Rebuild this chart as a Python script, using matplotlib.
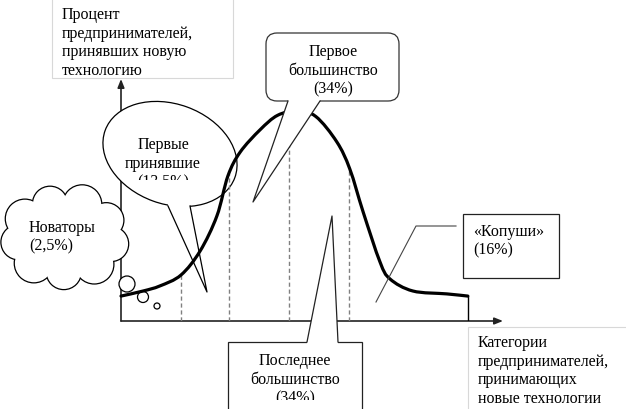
import numpy as np
import matplotlib.pyplot as plt
from matplotlib import transforms
from matplotlib.path import Path
from matplotlib.patches import (Ellipse, Circle, FancyBboxPatch, Rectangle, Polygon,
                                PathPatch)

plt.rcParams['font.family'] = ['Liberation Serif', 'DejaVu Serif']

# кривая принятия новой технологии: X - время (0..100), Y - доля (0..100)
curve_x = [0, 5.8, 10.2, 15.7, 20.7, 25.1, 28.0, 31.2, 36.4, 41.0, 46.1,
           51.0, 56.5, 59.9, 63.4, 67.8, 70.4, 76.4, 85.3, 90.8]
curve_y = [10.3, 12.4, 14.5, 19.0, 28.9, 43.4, 60.0, 69.8, 79.0, 85.0, 86.8,
           84.5, 74.0, 62.8, 45.0, 24.4, 17.4, 12.4, 11.2, 10.3]
# границы категорий
bounds = [15.7, 28.3, 44.0, 59.7]

categories = ["Новаторы", "Первые\nпринявшие", "Первое\nбольшинство",
              "Последнее\nбольшинство", "«Копуши»"]
shares = ["2,5%", "13,5%", "34%", "34%", "16%"]
y_title = "Процент\nпредпринимателей,\nпринявших новую\nтехнологию"
x_title = "Категории\nпредпринимателей,\nпринимающих\nновые технологии"

W, H = 626, 410
FS = 11.5
LS = 1.24
fig = plt.figure(figsize=(W / 100, H / 100), dpi=100)
# пиксельные координаты (y вниз) для выносок
pix = transforms.Affine2D().scale(1 / W, -1 / H).translate(0, 1) + fig.transFigure

ax = fig.add_axes([121 / W, (H - 322) / H, 382 / W, 242 / H])
ax.set_xlim(0, 100)
ax.set_ylim(0, 100)
ax.axis("off")

# оси со стрелками
arr = dict(arrowstyle="-|>,head_length=0.5,head_width=0.2", color="#222", lw=1.2,
           shrinkA=0, shrinkB=0)
ax.annotate("", xy=(1, 0), xytext=(0, 0), xycoords="axes fraction", arrowprops=arr, zorder=2)
ax.annotate("", xy=(0, 1), xytext=(0, 0), xycoords="axes fraction", arrowprops=arr, zorder=2)

# подписи осей в рамках
ax.add_patch(Rectangle((52, -2), 181, 81, transform=pix, fc="white", ec="#d8d8d8",
                       lw=0.8, clip_on=False, zorder=1))
ax.text(62, 43, y_title, transform=pix, ha="left", va="center", fontsize=FS,
        linespacing=LS, zorder=1.5)
ax.add_patch(Rectangle((468, 328), 165, 90, transform=pix, fc="white", ec="#d8d8d8",
                       lw=0.8, clip_on=False, zorder=1))
ax.text(478, 371, x_title, transform=pix, ha="left", va="center", fontsize=FS,
        linespacing=LS, zorder=1.5)


def add(p, z):
    p.set_transform(pix)
    p.set_clip_on(False)
    p.set_zorder(z)
    ax.add_patch(p)


# облако "Новаторы"
cx, cy, A, B = 65, 238, 47, 35
for i, a in enumerate(np.linspace(0, 2 * np.pi, 10)[:-1] + 0.2):
    r = 19 if i % 2 else 17
    add(Circle((cx + A * np.cos(a), cy + B * np.sin(a)), r, fc="none", ec="black", lw=1.8), 3)
    add(Circle((cx + A * np.cos(a), cy + B * np.sin(a)), r, fc="white", ec="none"), 3.1)
add(Ellipse((cx, cy), 2 * A + 4, 2 * B + 4, fc="white", ec="none"), 3.2)
for (bx, by, br) in [(127, 285, 8), (143, 298, 5.5), (157, 307, 3)]:
    add(Circle((bx, by), br, fc="white", ec="black", lw=0.9), 3.3)
ax.text(29, 237, f"{categories[0]}\n({shares[0]})", transform=pix, ha="left",
        va="center", fontsize=FS, linespacing=LS, zorder=3.5)

# эллипс "Первые принявшие"
add(Ellipse((170, 155), 138, 100, angle=20, fc="white", ec="black", lw=0.9), 4)
add(Polygon([(168, 207), (207, 293), (190, 207), (190, 197), (168, 197)],
            fc="white", ec="none"), 4.1)
ax.plot([168, 207, 190], [207, 293, 207], transform=pix, color="black", lw=0.9,
        clip_on=False, zorder=4.2)
t = ax.text(163, 164, f"{categories[1]}\n({shares[1]})", transform=pix, ha="center",
            va="center", fontsize=FS, linespacing=LS, zorder=4.3, clip_on=True)
t.set_clip_path(Rectangle((90, 120), 160, 61, transform=pix))

# кривая (гладкая, кривые Безье по точкам) и границы категорий
for b in bounds:
    ax.vlines(b, 0, np.interp(b, curve_x, curve_y), colors="#808080",
              linestyles=(0, (3, 2)), lw=1.0, zorder=5)
pts = np.column_stack([curve_x, curve_y])
verts, codes = [pts[0]], [Path.MOVETO]
for i in range(len(pts) - 1):
    p0 = pts[max(i - 1, 0)]
    p1, p2 = pts[i], pts[i + 1]
    p3 = pts[min(i + 2, len(pts) - 1)]
    verts += [p1 + (p2 - p0) / 6, p2 - (p3 - p1) / 6, p2]
    codes += [Path.CURVE4] * 3
ax.add_patch(PathPatch(Path(verts, codes), fc="none", ec="black", lw=2.3,
                       capstyle="round", joinstyle="round", zorder=6, clip_on=False))
ax.vlines(curve_x[-1], 0, curve_y[-1], colors="black", lw=1.0, zorder=6)

# "Первое большинство"
add(FancyBboxPatch((266, 34), 133, 68, boxstyle="round,pad=0,rounding_size=11",
                   fc="white", ec="#333", lw=0.9), 7)
add(Polygon([(288, 102), (253, 203), (320, 102), (320, 99), (288, 99)],
            fc="white", ec="none"), 7.1)
ax.plot([288, 253, 320], [102, 203, 102], transform=pix, color="#222", lw=0.9,
        clip_on=False, zorder=7.2)
ax.text(333, 71, f"{categories[2]}\n({shares[2]})", transform=pix, ha="center",
        va="center", fontsize=FS, linespacing=LS, zorder=7.3)

# "Последнее большинство"
add(Rectangle((228, 343), 134, 75, fc="white", ec="#222", lw=0.9), 7)
add(Polygon([(307, 343), (332, 217), (338, 343), (338, 346), (307, 346)],
            fc="white", ec="none"), 7.1)
ax.plot([307, 332, 338], [343, 217, 343], transform=pix, color="#222", lw=0.9,
        clip_on=False, zorder=7.2)
t = ax.text(295, 380, f"{categories[3]}\n({shares[3]})", transform=pix, ha="center",
            va="center", fontsize=FS, linespacing=LS, zorder=7.3, clip_on=True)
t.set_clip_path(Rectangle((228, 343), 134, 58, transform=pix))

# "«Копуши»"
add(Rectangle((463, 215), 96, 64, fc="white", ec="#222", lw=0.9), 7)
ax.plot([456, 416, 376], [227, 227, 303], transform=pix, color="#444", lw=0.8,
        clip_on=False, zorder=7.2)
ax.text(473, 241, f"{categories[4]}\n({shares[4]})", transform=pix, ha="left",
        va="center", fontsize=FS, linespacing=LS, zorder=7.3)

fig.savefig("out.png", dpi=100)
